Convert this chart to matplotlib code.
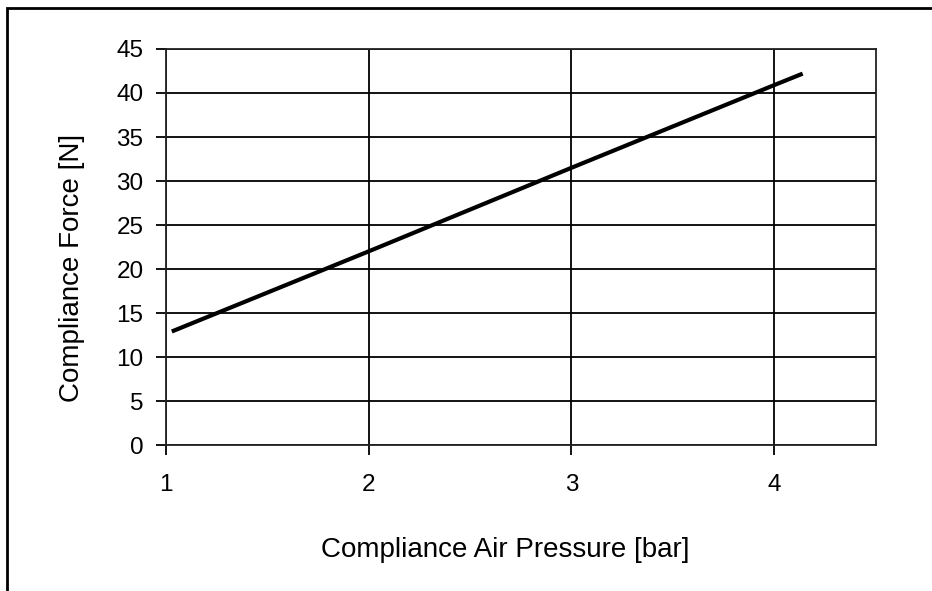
import matplotlib
matplotlib.use("Agg")
import matplotlib.pyplot as plt
from matplotlib.patches import Rectangle

# values
pressure = [1.03, 2.0, 3.0, 4.0, 4.14]
force = [12.9, 22.0, 31.5, 40.9, 42.2]
x_ticks = [1, 2, 3, 4]
y_ticks = [0, 5, 10, 15, 20, 25, 30, 35, 40, 45]

plt.rcParams['font.family'] = ['Liberation Sans', 'DejaVu Sans']

fig = plt.figure(figsize=(9.32, 5.91), dpi=100)
ax = fig.add_axes([0.1778, 0.2470, 0.7618, 0.6701])

ax.plot(pressure, force, color='black', linewidth=3, solid_capstyle='butt')

ax.set_xlim(1, 4.5)
ax.set_ylim(0, 45)
ax.set_xticks(x_ticks)
ax.set_yticks(y_ticks)
ax.grid(True, color='black', linewidth=1.3)
ax.set_axisbelow(True)
for sp in ax.spines.values():
    sp.set_color('#222222')
    sp.set_linewidth(1.3)
ax.tick_params(direction='out', length=7, width=1.3, labelsize=17.5)
ax.tick_params(axis='x', pad=14)
ax.tick_params(axis='y', pad=9)

ax.set_xlabel('Compliance Air Pressure [bar]', fontsize=20, va='center')
ax.set_ylabel('Compliance Force [N]', fontsize=20, va='center')
ax.xaxis.set_label_coords(0.4786, -0.265)
ax.yaxis.set_label_coords(-0.132, 0.447)

# frame around the whole picture (left and top edges visible)
fig.patches.append(Rectangle((7 / 932, -0.05), 1.1, 1 - 8 / 591 + 0.05,
                             transform=fig.transFigure, fill=False,
                             edgecolor='black', linewidth=2))

fig.savefig('out.png', dpi=100)
plt.close(fig)
